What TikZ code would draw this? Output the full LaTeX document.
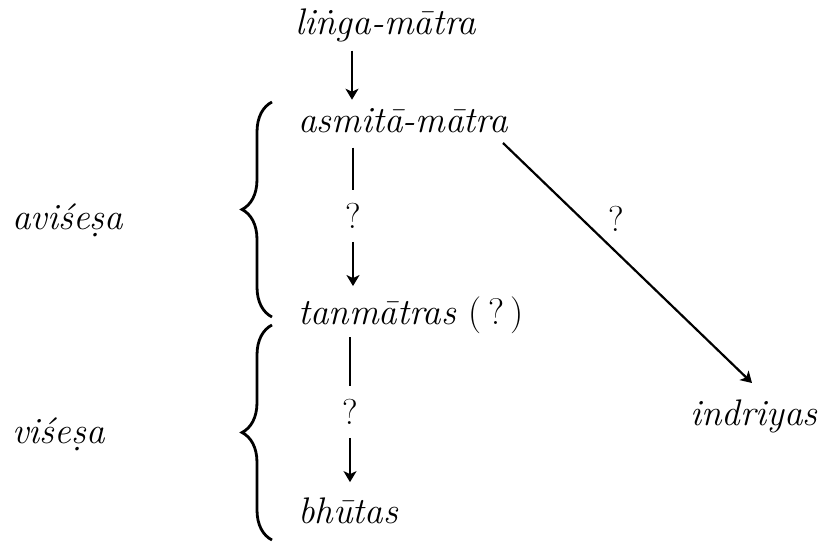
\documentclass[tikz,border=0pt]{standalone}
\usepackage{fontspec}
\usetikzlibrary{arrows.meta,decorations.pathreplacing,calc}
\tikzset{
  term/.style={font=\fontsize{37}{42}\selectfont\itshape\addfontfeature{FakeBold=1.2}, inner sep=0pt, anchor=base west},
  qmark/.style={font=\fontsize{36}{42}\selectfont\addfontfeature{FakeBold=1.2}, inner sep=13pt},
  qlab/.style={font=\fontsize{36}{42}\selectfont\addfontfeature{FakeBold=1.2}, inner sep=0pt},
  arr/.style={line width=2.2pt, -{Stealth[length=11pt,width=13pt,inset=3pt]}},
  ln/.style={line width=2.2pt},
  bracestyle/.style={line width=2.8pt, decorate, decoration={brace, amplitude=30pt}}
}
\begin{document}
\begin{tikzpicture}[x=1pt,y=-1pt]
\useasboundingbox (0,0) rectangle (820,548);
% terms
\node[term] (l) at (295,35) {liṅga-mātra};
\node[term] (a) at (298,133) {asmitā-mātra};
\node[term] (t) at (298,325) {tanmātras \upshape(\,?\,)};
\node[term] (b) at (298,523) {bhūtas};
\node[term] (ind) at (690,425) {indriyas};
\node[term] (av) at (12,230) {aviśeṣa};
\node[term] (vi) at (12,443) {viśeṣa};
% question marks
\node[qmark] (q1) at (353,216) {?};
\node[qmark] (q2) at (350,412) {?};
\node[qlab] (q3) at (616,219) {?};
% connectors
\coordinate (c0) at (352,0);
\draw[arr, shorten <=8pt, shorten >=9pt] (l.south -| c0) -- (a.north -| c0);
\draw[ln, shorten <=14pt] (a.south -| q1) -- (q1.north);
\draw[arr, shorten >=11pt] (q1.south) -- (t.north -| q1);
\draw[ln, shorten <=3pt] (t.south -| q2) -- (q2.north);
\draw[arr, shorten >=15pt] (q2.south) -- (b.north -| q2);
\coordinate (d0) at (503,143);
\coordinate (d1) at (752,383);
\draw[arr] (d0) -- (d1);
% braces
\coordinate (u1) at (272,317);
\coordinate (u2) at (272,102);
\coordinate (w1) at (272,540);
\coordinate (w2) at (272,325);
\draw[bracestyle] (u1) -- (u2);
\draw[bracestyle] (w1) -- (w2);
\end{tikzpicture}
\end{document}
